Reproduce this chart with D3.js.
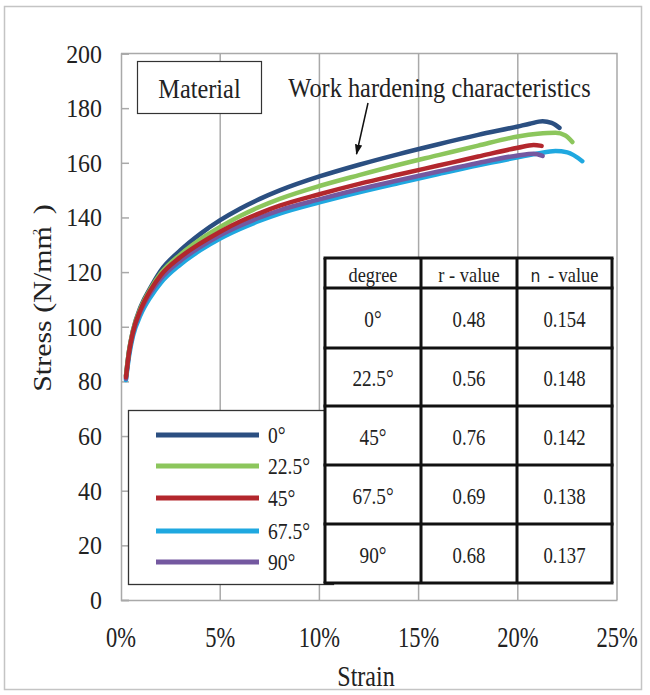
<!DOCTYPE html>
<html>
<head>
<meta charset="utf-8">
<script src="https://cdn.jsdelivr.net/npm/d3@7"></script>
<style>
  body { margin: 0; background: #fff; }
</style>
</head>
<body>
<svg id="chart" width="650" height="695" font-family="Liberation Serif, Times New Roman, serif"></svg>
<script>
// ---- data: true stress-strain curves per rolling direction (strain %, stress N/mm²) ----
const degreeNames = ["0°", "22.5°", "45°", "67.5°", "90°"];
const seriesColors = ["#2b4f81", "#8cc65c", "#b3272d", "#1fa8e0", "#7458a0"];

const curve0 = [[0.25,82],[0.4,91],[0.6,98.5],[1,107.5],[1.5,114.5],[2,120.5],[3,128],[4,134],[5,139],[6,143.2],[7,146.8],[8,149.9],[10,155],[12,159.3],[14,163.2],[16,166.8],[18,170.2],[20,173.3],[20.6,174.3],[21.25,175.2],[21.7,174.6],[22.1,172.8]];
const curve22 = [[0.25,82],[0.4,91],[0.6,98.5],[1,107],[1.5,114],[2,119.5],[3,126.5],[4,132],[5,136.5],[6,140.5],[7,143.9],[8,146.8],[10,151.5],[12,155.5],[14,159.3],[16,162.8],[18,166.3],[20,169.6],[21,170.6],[21.9,171],[22.4,170],[22.75,167.6]];
const curve45 = [[0.25,81.5],[0.4,90.5],[0.6,98],[1,106.5],[1.5,113.5],[2,118.8],[3,125.5],[4,130.5],[5,134.8],[6,138.5],[7,141.6],[8,144.3],[10,148.5],[12,152.3],[14,155.7],[16,159],[18,162.3],[20,165.5],[20.8,166.5],[21.2,166.2]];
const curve67 = [[0.25,80.5],[0.4,89],[0.6,96.5],[1,104.5],[1.5,111],[2,116],[3,122.8],[4,128],[5,132.3],[6,135.8],[7,138.8],[8,141.4],[10,145.5],[12,149.2],[14,152.6],[16,155.9],[18,159.1],[20,162],[21,163.4],[21.9,164.3],[22.5,163.8],[23.25,160.6]];
const curve90 = [[0.25,81],[0.4,90],[0.6,97.5],[1,105.8],[1.5,112.5],[2,117.5],[3,124.2],[4,129.2],[5,133.5],[6,137],[7,140],[8,142.6],[10,146.6],[12,150.3],[14,153.6],[16,156.8],[18,159.9],[20,162.7],[20.8,163.3],[21.25,162.5]];

// table of anisotropy values
const rValues = ["0.48", "0.56", "0.76", "0.69", "0.68"];
const nValues = ["0.154", "0.148", "0.142", "0.138", "0.137"];

// axes
const xTicks = [0, 5, 10, 15, 20, 25];
const xTickLabels = ["0%", "5%", "10%", "15%", "20%", "25%"];
const yTicks = [0, 20, 40, 60, 80, 100, 120, 140, 160, 180, 200];

// ---- layout ----
const svg = d3.select("#chart");
const serif = "Liberation Serif, Times New Roman, serif";
const plot = { left: 121, right: 617, top: 53.5, bottom: 600 };
const x = d3.scaleLinear().domain([0, 25]).range([plot.left, plot.right]);
const y = d3.scaleLinear().domain([0, 200]).range([plot.bottom, plot.top]);
const gridColor = "#a9a9a9";

// text with horizontal squeeze (narrow serif look)
function label(g, px, py, str, size, sx, anchor) {
  return g.append("text")
    .attr("transform", `translate(${px},${py}) scale(${sx},1)`)
    .attr("text-anchor", anchor || "start")
    .attr("font-family", serif)
    .attr("fill", "#222")
    .attr("font-size", size)
    .text(str);
}

// outer frame
svg.append("rect").attr("x", 4.5).attr("y", 6.5).attr("width", 637).attr("height", 683)
  .attr("fill", "#fff").attr("stroke", "#c4c4c4").attr("stroke-width", 1.5);

// vertical gridlines
svg.append("g").selectAll("line").data(xTicks.slice(1, -1)).join("line")
  .attr("x1", d => x(d)).attr("x2", d => x(d))
  .attr("y1", plot.top).attr("y2", plot.bottom)
  .attr("stroke", gridColor).attr("stroke-width", 1.5);

// plot border (top / right)
svg.append("path")
  .attr("d", `M${plot.left},${plot.top}H${plot.right}V${plot.bottom}`)
  .attr("fill", "none").attr("stroke", gridColor).attr("stroke-width", 1.5);

// y axis with inward ticks
const yAxis = d3.axisRight(y).tickValues(yTicks).tickSize(8).tickFormat("");
const yAxisG = svg.append("g").attr("transform", `translate(${plot.left},0)`).call(yAxis);
yAxisG.selectAll("path, line").attr("stroke", gridColor).attr("stroke-width", 1.5);

// x axis line
const xAxis = d3.axisTop(x).tickValues(xTicks).tickSize(0).tickFormat("");
const xAxisG = svg.append("g").attr("transform", `translate(0,${plot.bottom})`).call(xAxis);
xAxisG.selectAll("path, line").attr("stroke", gridColor).attr("stroke-width", 1.5);

// tick labels
const tickG = svg.append("g");
yTicks.forEach(v => label(tickG, 102, y(v) + 9, String(v), 26, 0.92, "end"));
xTicks.forEach((v, i) => label(tickG, x(v), plot.bottom + 47, xTickLabels[i], 30, 0.75, "middle"));

// axis titles
label(svg, 366, 686, "Strain", 29, 0.83, "middle");
const yTitle = svg.append("text")
  .attr("transform", "translate(51,298) rotate(-90) scale(1,0.85)")
  .attr("text-anchor", "middle").attr("font-size", 30)
  .attr("font-family", serif).attr("fill", "#222");
yTitle.append("tspan").text("Stress (N/mm");
yTitle.append("tspan").attr("font-size", 12).attr("dx", -9).attr("dy", -13).text("2");
yTitle.append("tspan").attr("dy", 13).text("\u00a0\u00a0)");

// curves
const line = d3.line().x(d => x(d[0])).y(d => y(d[1])).curve(d3.curveMonotoneX);
const curves = [curve0, curve22, curve45, curve67, curve90];
const drawOrder = [3, 4, 0, 1, 2];
svg.append("g").selectAll("path").data(drawOrder).join("path")
  .attr("d", i => line(curves[i]))
  .attr("fill", "none")
  .attr("stroke", i => seriesColors[i])
  .attr("stroke-width", 4.5)
  .attr("stroke-linecap", "round")
  .attr("stroke-linejoin", "round");

// "Material" box
svg.append("rect").attr("x", 137.5).attr("y", 61.5).attr("width", 124).attr("height", 52)
  .attr("fill", "#fff").attr("stroke", "#333").attr("stroke-width", 1.2);
label(svg, 199.5, 98, "Material", 27, 0.9, "middle");

// annotation with arrow
label(svg, 439.5, 97, "Work hardening characteristics", 28, 0.87, "middle");
svg.append("defs").append("marker")
  .attr("id", "arrowHead").attr("viewBox", "0 0 10 10")
  .attr("refX", 9).attr("refY", 5).attr("markerWidth", 7).attr("markerHeight", 7)
  .attr("orient", "auto")
  .append("path").attr("d", "M0,1.5L10,5L0,8.5Z").attr("fill", "#111");
svg.append("line").attr("x1", 368).attr("y1", 103).attr("x2", 356.5).attr("y2", 154)
  .attr("stroke", "#111").attr("stroke-width", 1.5).attr("marker-end", "url(#arrowHead)");

// legend
const legend = svg.append("g");
legend.append("rect").attr("x", 128.5).attr("y", 410.5).attr("width", 205).attr("height", 174)
  .attr("fill", "#fff").attr("stroke", "#333").attr("stroke-width", 1.3);
const legendY = [435, 466, 498, 531, 562];
degreeNames.forEach((name, i) => {
  legend.append("line").attr("x1", 156).attr("x2", 259).attr("y1", legendY[i]).attr("y2", legendY[i])
    .attr("stroke", seriesColors[i]).attr("stroke-width", 5);
  label(legend, 268, legendY[i] + 8, name, 23, 0.85, "start");
});

// table of r-value / n-value
const table = svg.append("g");
const colX = [325, 421, 517, 612];
const rowY = [258, 288, 348, 406, 465, 524, 583];
table.append("rect").attr("x", colX[0]).attr("y", rowY[0])
  .attr("width", colX[3] - colX[0]).attr("height", rowY[6] - rowY[0])
  .attr("fill", "#fff");
const colMid = i => (colX[i] + colX[i + 1]) / 2;
label(table, colMid(0), 282, "degree", 20, 0.92, "middle");
label(table, colMid(1), 282, "r - value", 20, 0.92, "middle");
const nHead = table.append("text")
  .attr("transform", `translate(${colMid(2)},282) scale(0.92,1)`)
  .attr("text-anchor", "middle").attr("font-size", 20)
  .attr("font-family", serif).attr("fill", "#222");
nHead.append("tspan").attr("font-family", "DejaVu Sans").attr("font-size", 17).text("n");
nHead.append("tspan").attr("dx", 8).text("- value");
degreeNames.forEach((name, i) => {
  const by = (rowY[i + 1] + rowY[i + 2]) / 2 + 9;
  label(table, colMid(0), by, name, 24, 0.8, "middle");
  label(table, colMid(1), by, rValues[i], 24, 0.78, "middle");
  label(table, colMid(2), by, nValues[i], 24, 0.78, "middle");
});
table.selectAll("line.v").data(colX).join("line")
  .attr("x1", d => d).attr("x2", d => d).attr("y1", rowY[0]).attr("y2", rowY[6])
  .attr("stroke", "#111").attr("stroke-width", 3);
table.selectAll("line.h").data(rowY).join("line")
  .attr("x1", colX[0] - 1.5).attr("x2", colX[3] + 1.5).attr("y1", d => d).attr("y2", d => d)
  .attr("stroke", "#111").attr("stroke-width", 3);
</script>
</body>
</html>
